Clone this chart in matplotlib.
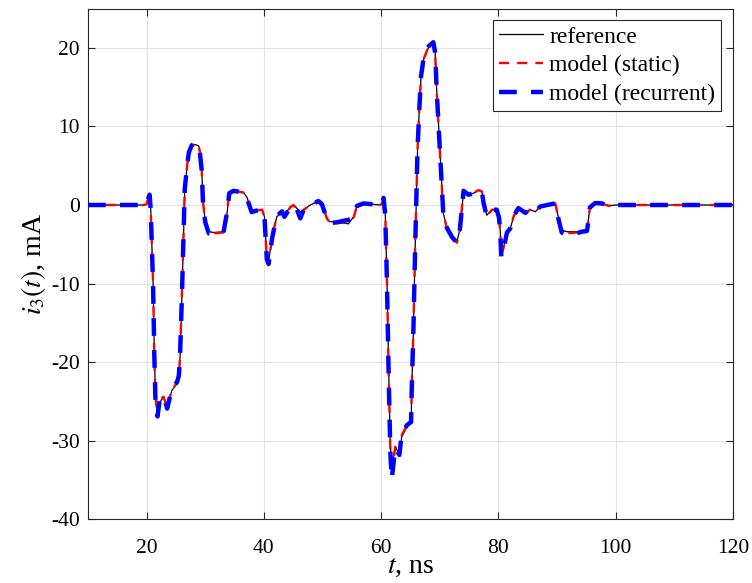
import matplotlib.pyplot as plt

# time axis (ns) shared by all three traces
t = [10, 19.5, 20.0, 20.3, 20.5, 20.7, 20.9, 21.1, 21.3, 21.5, 21.85, 22.2, 22.5, 22.9,
     23.5, 24.3, 25.2, 25.5, 25.7, 26.0, 26.3, 26.5, 26.9, 27.2, 27.7, 28.3, 28.9, 29.1,
     29.4, 29.6, 30.0, 30.6, 31.5, 33.1, 33.7, 34.1, 34.8, 35.6, 36.5, 37.1, 37.9, 38.8,
     39.7, 40.1, 40.5, 40.8, 41.4, 42.2, 43.1, 43.5, 44.5, 45.05, 45.6, 46.2, 46.8, 47.9,
     49.3, 49.9, 50.75, 51.2, 52.5, 53.6, 54.4, 55.3, 55.9, 57.0, 59.8, 60.2, 60.4, 60.7,
     61.0, 61.25, 61.55, 61.8, 62.4, 63.1, 63.5, 64.4, 65.1, 65.2, 65.5, 65.8, 66.0, 66.2,
     66.5, 66.8, 67.2, 68.1, 68.9, 69.2, 69.5, 69.8, 70.35, 70.6, 71.2, 72.1, 72.9, 73.4,
     73.8, 74.05, 74.9, 75.75, 76.6, 77.2, 77.45, 78.0, 78.9, 79.7, 80.1, 80.3, 80.5, 80.9,
     81.45, 82.0, 82.6, 83.4, 84.6, 85.4, 86.3, 87.1, 88.3, 89.7, 90.2, 90.8, 91.7, 93.4,
     94.2, 95.1, 95.4, 95.6, 96.5, 97.6, 98.8, 100, 120]

# port current i3 (mA)
i_ref = [0, 0, 0.1, 1.0, 1.5, -0.5, -5.3, -10.0, -18.4, -24.0, -26.5, -25.3, -24.8, -24.5,
         -25.7, -23.6, -22.7, -21.8, -19.3, -12.1, -3.6, 1.9, 4.9, 6.6, 7.5, 7.7, 7.5, 6.6,
         4.5, 0.6, -2.1, -3.4, -3.5, -3.4, -1.1, 1.4, 1.7, 1.6, 1.6, 1.0, -0.8, -0.7,
         -0.6, -1.5, -6.6, -7.2, -4.0, -1.5, -0.85, -1.3, -0.2, 0.0, -0.4, -0.9, -0.6, 0.0,
         0.5, 0.0, -1.7, -2.1, -2.2, -2.3, -2.4, -1.5, 0.0, 0.2, 0.0, 0.2, 1.1, -1.1,
         -10.0, -20.1, -30.3, -33.5, -30.7, -31.9, -29.5, -28.2, -27.8, -24.0, -15.9, -5.3, 1.0, 7.0,
         12.1, 16.3, 18.4, 20.1, 20.6, 19.3, 14.2, 10.0, 2.2, -1.1, -2.8, -4.0, -4.7, -3.2,
         -0.2, 1.7, 1.3, 1.5, 1.9, 1.7, 0.4, -1.3, -0.6, -0.6, -1.5, -3.2, -6.1, -5.3,
         -3.4, -3.0, -1.5, -0.4, -1.1, -0.6, -0.85, -0.2, 0.0, 0.2, -1.5, -3.2, -3.4, -3.4,
         -3.3, -3.2, -1.5, -0.2, 0.25, 0.2, -0.1, 0, 0]

i_static = [0, 0, 0.1, 1.0, 1.4, -0.6, -5.4, -10.1, -18.6, -24.3, -26.8, -25.2, -24.6, -24.4,
            -25.8, -23.5, -22.6, -21.7, -19.2, -12.0, -3.5, 2.0, 5.0, 6.7, 7.6, 7.8, 7.6, 6.6,
            4.4, 0.5, -2.2, -3.5, -3.6, -3.5, -1.0, 1.5, 1.8, 1.7, 1.6, 1.0, -0.9, -0.7,
            -0.6, -1.6, -6.8, -7.4, -4.1, -1.4, -0.8, -1.4, -0.3, 0.0, -0.5, -1.2, -0.6, 0.0,
            0.5, 0.1, -1.7, -2.2, -2.3, -2.2, -2.2, -1.6, -0.1, 0.2, 0.0, 0.2, 1.2, -1.2,
            -10.2, -20.4, -30.8, -34.3, -30.8, -31.8, -29.3, -28.0, -27.7, -23.8, -15.8, -5.2, 1.1, 7.1,
            12.2, 16.4, 18.5, 20.2, 20.8, 19.4, 14.1, 9.9, 2.1, -1.2, -2.9, -4.1, -4.8, -3.3,
            -0.1, 1.8, 1.3, 1.5, 1.9, 1.7, 0.3, -1.4, -0.6, -0.6, -1.6, -3.3, -6.3, -5.4,
            -3.5, -3.0, -1.4, -0.4, -1.0, -0.6, -0.8, -0.2, 0.0, 0.2, -1.6, -3.3, -3.6, -3.5,
            -3.3, -3.2, -1.6, -0.3, 0.25, 0.2, -0.1, 0, 0]

i_recurrent = [0, 0, 0.1, 0.9, 1.3, -0.6, -5.5, -10.2, -18.8, -24.6, -26.9, -25.0, -24.5, -24.3,
               -25.9, -23.4, -22.5, -21.7, -19.1, -12.0, -3.5, 2.0, 5.0, 6.7, 7.6, 7.8, 7.6, 6.5,
               4.4, 0.5, -2.2, -3.6, -3.6, -3.5, -1.0, 1.5, 1.8, 1.7, 1.5, 0.9, -0.9, -0.7,
               -0.6, -1.6, -6.9, -7.5, -4.2, -1.4, -0.8, -1.5, -0.3, 0.0, -0.5, -1.7, -0.6, 0.0,
               0.5, 0.1, -1.8, -2.3, -2.2, -2.0, -1.9, -1.6, -0.1, 0.2, 0.0, 0.1, 0.9, -1.3,
               -10.3, -20.6, -31.2, -34.9, -30.9, -31.8, -29.2, -28.0, -27.6, -23.8, -15.8, -5.2, 1.1, 7.1,
               12.2, 16.4, 18.5, 20.2, 20.7, 19.4, 14.1, 9.9, 2.1, -1.2, -2.9, -4.1, -4.8, -3.3,
               -0.1, 1.8, 1.3, 1.5, 1.9, 1.6, 0.3, -1.4, -0.6, -0.6, -1.6, -3.4, -6.6, -5.5,
               -3.5, -3.0, -1.4, -0.4, -1.0, -0.5, -0.9, -0.2, 0.0, 0.2, -1.7, -3.5, -3.8, -3.6,
               -3.4, -3.3, -1.7, -0.3, 0.25, 0.2, -0.1, 0, 0]

plt.rcParams['font.family'] = ['Liberation Serif', 'DejaVu Serif']
plt.rcParams['mathtext.fontset'] = 'stix'
plt.rcParams['axes.unicode_minus'] = False

fig = plt.figure(figsize=(7.52, 5.83), dpi=100)
ax = fig.add_axes([88 / 752, 1 - 519.4 / 583, (733 - 88) / 752, (519.4 - 8.5) / 583])

ax.plot(t, i_ref, color='black', lw=0.9, label='reference', zorder=3)
ax.plot(t, i_static, color='red', lw=1.7, dashes=(4.3, 3.4), label='model (static)', zorder=4)
ax.plot(t, i_recurrent, color='blue', lw=3.2, dashes=(4.0, 3.2), label='model (recurrent)', zorder=5)

ax.set_xlim(10, 120)
ax.set_ylim(-40, 25)
ax.set_xticks([20, 40, 60, 80, 100, 120])
ax.set_yticks([-40, -30, -20, -10, 0, 10, 20])
ax.grid(True, color='#e3e3e3', lw=0.8)
ax.set_axisbelow(True)

axis_gray = '#262626'
for s in ax.spines.values():
    s.set_color(axis_gray)
    s.set_linewidth(0.8)
ax.tick_params(direction='in', top=True, right=True, length=5, width=0.8,
               color=axis_gray, labelsize=15.5, labelcolor='black')
ax.tick_params(axis='x', pad=14)
ax.tick_params(axis='y', pad=6)

ax.set_xlabel(r'$t$, ns', fontsize=20, labelpad=-3)
ax.set_ylabel(r'$i_3(t)$, mA', fontsize=20, labelpad=2)

leg = ax.legend(loc='upper right', fontsize=17, handlelength=1.9, handletextpad=0.25,
                borderaxespad=0.5, borderpad=0.25, labelspacing=0.3,
                fancybox=False, framealpha=1)
leg.get_frame().set_edgecolor(axis_gray)
leg.get_frame().set_linewidth(0.8)

fig.savefig('out.png', dpi=100)
